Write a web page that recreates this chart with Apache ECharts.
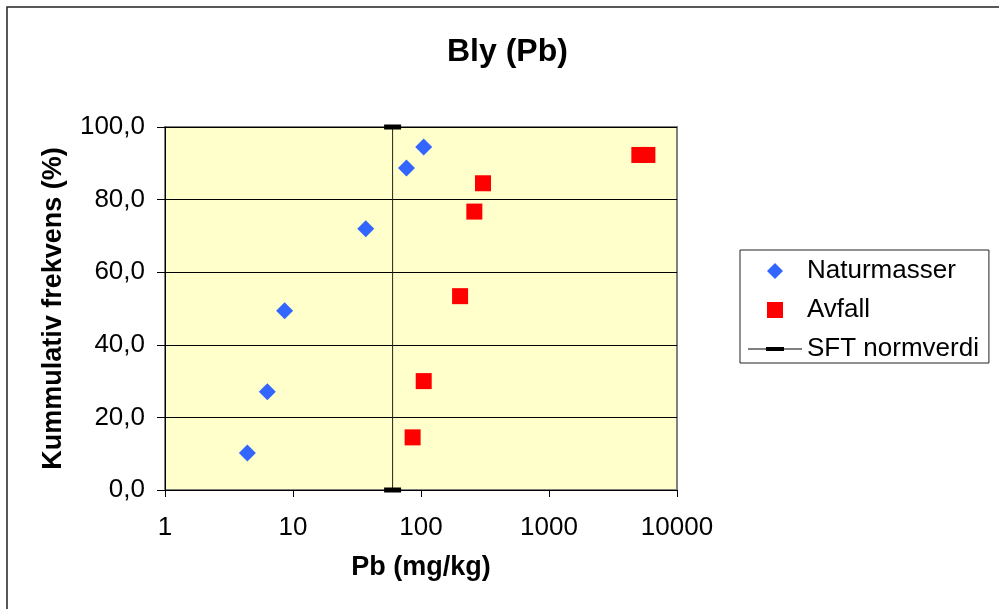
<!DOCTYPE html>
<html>
<head>
<meta charset="utf-8">
<script src="https://cdn.jsdelivr.net/npm/echarts@6/dist/echarts.min.js"></script>
<style>
html,body{margin:0;padding:0;background:#fff;}
#chart{width:999px;height:609px;}
</style>
</head>
<body>
<div id="chart"></div>
<script>
// ---- data ----
var titleText = 'Bly (Pb)';
var xAxisName = 'Pb (mg/kg)';
var yAxisName = 'Kummulativ frekvens (%)';
var seriesNames = ['Naturmasser', 'Avfall', 'SFT normverdi'];
var naturX = [4.4, 6.3, 8.6, 37, 77, 105];
var naturY = [10.2, 27.1, 49.4, 72.0, 88.7, 94.5];
var avfallX = [86, 105, 202, 261, 305, 5080, 5870];
var avfallY = [14.5, 30.0, 53.4, 76.7, 84.5, 92.3, 92.3];
var sftX = [60, 60];
var sftY = [0, 100];
var xRange = [1, 10000];
var yRange = [0, 100];
var yStep = 20;

function pairs(xs, ys) { return xs.map(function (x, i) { return [x, ys[i]]; }); }

// legend icons drawn inside a fixed 54x16 box (corner move-tos fix the bounding box)
var ICON_BOX = 'M0,0 M54,16 ';
var iconDiamond = 'path://' + ICON_BOX + 'M19,8 L27,0 L35,8 L27,16 Z';
var iconSquare = 'path://' + ICON_BOX + 'M19,0 L35,0 L35,16 L19,16 Z';
var iconSft = 'path://' + ICON_BOX + 'M0,7.5 L54,7.5 L54,8.5 L0,8.5 Z M18,6 L36,6 L36,10 L18,10 Z';

var FONT = "'Liberation Sans', Arial, sans-serif";
var chart = echarts.init(document.getElementById('chart'), null, {renderer: 'canvas'});
chart.setOption({
  animation: false,
  backgroundColor: '#fff',
  textStyle: {fontFamily: FONT, color: '#000'},
  title: {
    text: titleText,
    left: 442, top: 31,
    textStyle: {fontFamily: FONT, fontSize: 32, fontWeight: 'bold', color: '#000'}
  },
  graphic: [{
    type: 'rect', silent: true, z: -1,
    shape: {x: 7, y: 7, width: 1010, height: 620},
    style: {fill: 'none', stroke: '#222', lineWidth: 1.5}
  }],
  legend: {
    orient: 'vertical',
    left: 740, top: 250,
    padding: [8, 10, 1, 8],
    itemWidth: 54, itemHeight: 16, itemGap: 13,
    symbolKeepAspect: false,
    backgroundColor: '#fff',
    borderColor: '#222', borderWidth: 1,
    textStyle: {fontFamily: FONT, fontSize: 26, color: '#000'},
    data: [
      {name: seriesNames[0], icon: iconDiamond},
      {name: seriesNames[1], icon: iconSquare},
      {name: seriesNames[2], icon: iconSft}
    ]
  },
  grid: {
    left: 165, top: 127, width: 512, height: 363,
    show: true, backgroundColor: '#FFFFCC',
    borderColor: '#808080', borderWidth: 2
  },
  xAxis: {
    type: 'log', logBase: 10, min: xRange[0], max: xRange[1],
    name: xAxisName, nameLocation: 'middle', nameGap: 64,
    nameTextStyle: {fontFamily: FONT, fontSize: 27, fontWeight: 'bold', color: '#000'},
    axisLine: {show: true, onZero: false, lineStyle: {color: '#000', width: 1}},
    axisTick: {show: true, inside: false, length: 7, lineStyle: {color: '#000'}},
    minorTick: {show: false},
    splitLine: {show: false},
    axisLabel: {
      fontFamily: FONT, fontSize: 26, color: '#000', margin: 25,
      formatter: function (v) { return String(Math.round(v)); }
    }
  },
  yAxis: {
    type: 'value', min: yRange[0], max: yRange[1], interval: yStep,
    name: yAxisName, nameLocation: 'middle', nameGap: 98,
    nameTextStyle: {fontFamily: FONT, fontSize: 27, fontWeight: 'bold', color: '#000'},
    axisLine: {show: true, lineStyle: {color: '#000', width: 1}},
    axisTick: {show: true, inside: false, length: 8, lineStyle: {color: '#000'}},
    splitLine: {show: true, lineStyle: {color: '#000', width: 1}},
    axisLabel: {
      fontFamily: FONT, fontSize: 26, color: '#000', margin: 20,
      formatter: function (v) { return v.toFixed(1).replace('.', ','); }
    }
  },
  series: [
    {
      name: seriesNames[2], type: 'line', data: pairs(sftX, sftY),
      symbol: 'rect', symbolSize: [17, 5], showSymbol: true, clip: false,
      itemStyle: {color: '#000'},
      lineStyle: {color: '#222', width: 1},
      z: 3
    },
    {
      name: seriesNames[0], type: 'scatter', data: pairs(naturX, naturY),
      symbol: 'diamond', symbolSize: 17,
      itemStyle: {color: '#3366FF', opacity: 1}, z: 4
    },
    {
      name: seriesNames[1], type: 'scatter', data: pairs(avfallX, avfallY),
      symbol: 'rect', symbolSize: 16,
      itemStyle: {color: '#FF0000', opacity: 1}, z: 4
    }
  ]
});
</script>
</body>
</html>
